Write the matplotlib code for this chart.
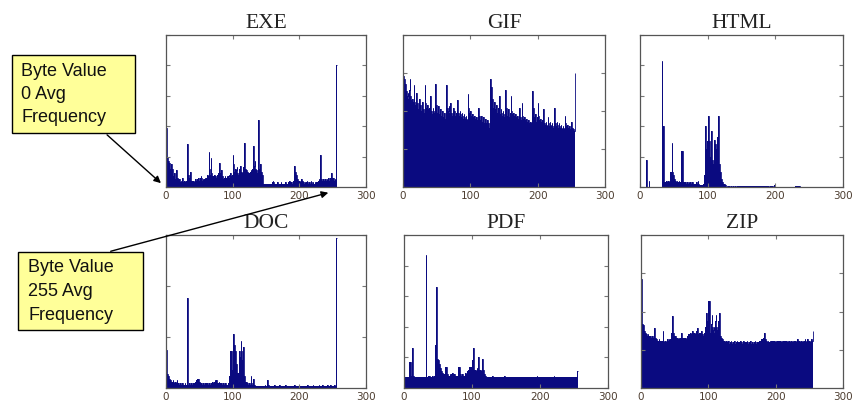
import numpy as np
import matplotlib
matplotlib.use('Agg')
import matplotlib.pyplot as plt
from matplotlib.patches import Rectangle, FancyArrowPatch

# average byte frequency, in percent of each panel's height, byte values 0..255
exe = [39, 21, 20, 17, 14, 16, 12, 10, 15, 12, 8, 7, 9, 6, 5, 11,
       9, 6, 5, 4, 5, 3, 4, 3, 6, 4, 3, 4, 3, 3, 4, 5,
       28, 8, 5, 6, 10, 5, 4, 4, 3, 4, 3, 4, 5, 4, 3, 5,
       6, 5, 4, 6, 7, 6, 4, 5, 4, 5, 6, 5, 6, 7, 8, 7,
       23, 12, 8, 19, 9, 7, 6, 7, 8, 6, 7, 6, 5, 8, 9, 7,
       16, 9, 8, 11, 7, 6, 5, 6, 7, 5, 6, 7, 6, 7, 8, 6,
       9, 8, 7, 8, 21, 15, 10, 9, 12, 11, 13, 9, 8, 10, 12, 14,
       11, 10, 9, 12, 13, 29, 15, 12, 11, 9, 10, 9, 8, 9, 10, 11,
       10, 12, 9, 27, 14, 17, 12, 11, 10, 9, 44, 13, 12, 15, 11, 10,
       8, 3, 2, 2, 2, 2, 2, 2, 2, 2, 2, 2, 2, 2, 2, 3,
       4, 3, 2, 2, 2, 2, 2, 3, 2, 2, 2, 2, 3, 2, 2, 2,
       2, 2, 2, 3, 2, 2, 2, 3, 2, 4, 3, 2, 3, 2, 3, 4,
       14, 12, 10, 8, 8, 5, 4, 3, 4, 3, 3, 5, 4, 3, 3, 2,
       3, 2, 3, 4, 3, 2, 2, 3, 2, 4, 3, 2, 3, 2, 2, 3,
       2, 3, 2, 3, 4, 5, 4, 21, 6, 5, 4, 4, 5, 4, 3, 5,
       4, 5, 4, 6, 5, 4, 6, 7, 9, 6, 5, 6, 4, 5, 4, 80]

gif = [73, 72, 71, 68, 66, 63, 60, 62, 58, 64, 71, 60, 57, 55, 58, 56,
       67, 56, 54, 52, 62, 55, 53, 51, 58, 54, 52, 50, 56, 53, 51, 49,
       67, 55, 52, 50, 54, 51, 49, 52, 60, 53, 50, 48, 52, 50, 49, 47,
       68, 54, 51, 49, 53, 50, 48, 51, 49, 47, 50, 48, 46, 49, 47, 45,
       67, 56, 52, 50, 53, 49, 55, 51, 49, 47, 52, 48, 50, 47, 46, 49,
       57, 51, 49, 47, 50, 48, 46, 49, 47, 45, 48, 46, 45, 47, 45, 44,
       61, 52, 49, 47, 50, 47, 45, 48, 46, 44, 47, 45, 44, 46, 44, 43,
       52, 47, 45, 44, 47, 45, 43, 46, 44, 42, 45, 43, 42, 44, 42, 41,
       39, 71, 62, 66, 58, 55, 52, 56, 53, 51, 54, 50, 49, 52, 50, 60,
       48, 51, 49, 47, 50, 48, 46, 55, 64, 52, 49, 47, 51, 48, 46, 49,
       60, 50, 48, 46, 49, 47, 45, 48, 46, 44, 47, 45, 44, 52, 46, 44,
       55, 47, 45, 43, 46, 44, 43, 45, 43, 42, 44, 42, 41, 43, 42, 41,
       63, 52, 49, 46, 48, 45, 43, 46, 55, 47, 44, 42, 45, 43, 41, 44,
       51, 44, 42, 41, 43, 41, 40, 46, 42, 40, 43, 41, 40, 42, 40, 39,
       52, 45, 42, 40, 43, 41, 39, 42, 40, 39, 41, 39, 38, 40, 39, 38,
       47, 42, 40, 39, 41, 39, 38, 40, 38, 37, 43, 39, 37, 38, 37, 75]

html = [0, 0, 0, 0, 0, 0, 0, 0, 0, 18, 18, 0, 0, 4, 0, 0,
        0, 0, 0, 0, 0, 0, 0, 0, 0, 0, 0, 0, 0, 0, 0, 0,
        83, 40, 40, 4, 3, 3, 3, 4, 3, 3, 4, 3, 4, 10, 10, 29,
        10, 8, 5, 4, 4, 3, 4, 3, 3, 4, 3, 3, 4, 24, 24, 4,
        3, 3, 3, 3, 2, 3, 3, 2, 3, 2, 3, 2, 2, 3, 2, 2,
        2, 2, 2, 3, 2, 4, 2, 1, 1, 1, 1, 1, 1, 2, 2, 8,
        40, 40, 25, 30, 40, 47, 30, 28, 20, 37, 22, 18, 15, 26, 31, 28,
        18, 25, 33, 33, 47, 15, 10, 8, 5, 3, 3, 2, 2, 1, 1, 0,
        0.5, 0, 0.5, 0, 0.5, 0, 0, 0.5, 0, 0, 0.5, 0, 0, 0.5, 0, 0,
        0.5, 0.5, 0.5, 0.5, 0.5, 0.5, 0.5, 0.5, 0.5, 0.5, 0.5, 0.5, 0.5, 0.5, 0.5, 0.5,
        0.5, 0.5, 0.5, 0.5, 0.5, 0.5, 0.5, 0.5, 0.5, 0.5, 0.5, 0.5, 0.5, 0.5, 0.5, 0.5,
        0.5, 0.5, 0.5, 0.5, 0.5, 0.5, 0.5, 0.5, 0.5, 0.5, 0.5, 0, 0.5, 0.5, 0.5, 0,
        0.5, 0, 0.5, 0.5, 0.5, 0, 1.5, 0.5, 0, 0, 0, 0, 0, 0, 0, 0,
        0, 0, 0, 0, 0, 0, 0, 0, 0, 0, 0, 0, 0, 0, 0, 0,
        0, 0, 0, 0, 0, 0.5, 0.5, 0.5, 0.5, 0.5, 0.5, 0.5, 0.5, 0, 0, 0,
        0, 0, 0, 0, 0, 0, 0, 0, 0, 0, 0, 0, 0, 0, 0, 0]

doc = [25, 10, 9, 8, 7, 6, 5, 5, 4, 4, 5, 4, 3, 3, 4, 3,
       5, 3, 3, 2, 2, 3, 2, 2, 3, 2, 2, 2, 3, 2, 2, 2,
       59, 2, 2, 3, 2, 2, 3, 2, 2, 3, 3, 3, 4, 5, 6, 6,
       6, 5, 4, 3, 3, 3, 2, 3, 3, 2, 2, 3, 3, 2, 3, 2,
       3, 3, 2, 3, 3, 4, 3, 3, 4, 5, 4, 5, 4, 3, 3, 4,
       3, 3, 3, 3, 2, 3, 3, 2, 3, 3, 2, 2, 2, 3, 3, 8,
       24, 18, 24, 12, 20, 35, 28, 15, 24, 16, 12, 10, 10, 18, 24, 20,
       31, 24, 18, 16, 27, 8, 5, 4, 4, 3, 3, 2, 2, 3, 2, 8,
       3, 2, 2, 6, 2, 2, 1, 1, 1, 1, 1, 1, 1, 1, 1, 1,
       1, 1, 1, 1, 2, 1, 1, 2, 5, 2, 1, 1, 1, 1, 1, 1,
       1, 1, 2, 1, 1, 1, 1, 1, 1, 1, 2, 1, 1, 1, 1, 1,
       1, 1, 1, 2, 1, 1, 1, 1, 1, 1, 1, 1, 1, 1, 1, 1,
       2, 1, 1, 1, 1, 1, 1, 2, 1, 1, 1, 1, 1, 1, 1, 1,
       1, 1, 1, 1, 2, 1, 1, 1, 1, 1, 1, 1, 2, 1, 1, 1,
       1, 1, 1, 1, 1, 2, 1, 1, 1, 1, 2, 1, 1, 1, 1, 1,
       1, 1, 2, 1, 1, 1, 2, 1, 1, 1, 1, 1, 2, 1, 1, 98]

pdf = [7, 7, 7, 7, 7, 7, 7, 7, 17, 17, 7, 8, 26, 8, 7, 7,
       7, 7, 7, 7, 7, 7, 7, 7, 7, 7, 7, 7, 7, 7, 7, 7,
       87, 7, 7, 7, 8, 8, 7, 7, 7, 8, 8, 7, 8, 9, 28, 66,
       20, 19, 18, 17, 16, 13, 12, 11, 10, 9, 9, 9, 14, 14, 14, 9,
       9, 8, 8, 9, 8, 9, 10, 10, 9, 8, 9, 8, 8, 8, 8, 10,
       14, 14, 12, 9, 8, 8, 9, 8, 8, 9, 10, 9, 9, 11, 12, 14,
       14, 14, 13, 14, 18, 26, 26, 12, 10, 12, 11, 13, 12, 20, 20, 12,
       12, 11, 10, 19, 12, 10, 9, 8, 8, 7, 7, 7, 7, 7, 7, 7,
       7, 7, 8, 7, 7, 7, 7, 7, 7, 7, 7, 7, 7, 7, 7, 7,
       7, 7, 7, 8, 7, 7, 7, 7, 7, 7, 7, 7, 7, 7, 7, 7,
       7, 7, 7, 7, 7, 7, 7, 7, 7, 7, 7, 7, 7, 7, 7, 7,
       7, 7, 7, 7, 7, 7, 7, 7, 7, 7, 7, 7, 7, 7, 7, 7,
       7, 7, 7, 8, 7, 7, 7, 7, 7, 7, 7, 7, 7, 7, 7, 7,
       7, 7, 7, 7, 7, 7, 7, 7, 7, 7, 7, 7, 8, 7, 7, 7,
       7, 7, 7, 7, 7, 7, 7, 7, 7, 7, 7, 7, 7, 7, 7, 7,
       7, 7, 7, 7, 7, 7, 7, 7, 7, 7, 7, 7, 7, 7, 7, 11]

zip_ = [71, 50, 42, 41, 38, 37, 36, 35, 35, 34, 35, 34, 34, 33, 34, 33,
        33, 34, 33, 32, 39, 33, 32, 32, 31, 31, 32, 31, 31, 30, 31, 31,
        37, 31, 30, 31, 31, 30, 31, 32, 31, 32, 31, 32, 33, 36, 47, 47,
        36, 34, 33, 34, 33, 32, 33, 32, 33, 32, 33, 34, 36, 33, 32, 33,
        33, 32, 33, 32, 33, 34, 35, 34, 35, 36, 35, 36, 37, 36, 35, 36,
        35, 36, 37, 39, 36, 35, 36, 35, 36, 37, 36, 35, 34, 35, 36, 40,
        45, 49, 44, 57, 57, 57, 40, 36, 42, 48, 40, 38, 40, 36, 44, 48,
        40, 38, 42, 44, 49, 38, 34, 33, 32, 32, 31, 31, 31, 30, 31, 30,
        30, 31, 30, 29, 30, 31, 30, 29, 30, 30, 31, 30, 29, 30, 31, 30,
        30, 29, 30, 31, 30, 30, 29, 30, 31, 30, 29, 30, 30, 31, 30, 29,
        30, 30, 31, 30, 29, 30, 30, 29, 30, 31, 30, 29, 29, 30, 30, 31,
        30, 31, 32, 31, 32, 33, 32, 36, 32, 31, 31, 30, 31, 30, 30, 31,
        30, 31, 30, 31, 31, 30, 31, 30, 31, 30, 31, 30, 31, 31, 30, 31,
        30, 31, 30, 31, 30, 31, 31, 30, 31, 30, 31, 30, 31, 31, 30, 31,
        30, 31, 30, 31, 30, 31, 30, 31, 32, 31, 30, 31, 30, 31, 31, 30,
        31, 30, 31, 32, 31, 30, 31, 32, 31, 30, 31, 30, 31, 32, 31, 37]

titles = ['EXE', 'GIF', 'HTML', 'DOC', 'PDF', 'ZIP']
series = [exe, gif, html, doc, pdf, zip_]
ytick_steps = [5, 4, 5, 3, 5, 4]
xticks = [0, 100, 200, 300]

W, H = 855, 404
# axes boxes in pixels: left, top, width, height
boxes = [(166, 35, 200, 152), (403, 35, 202, 152), (640, 35, 203, 152),
         (166, 235, 200, 153), (404, 235, 204, 153), (641, 235, 202, 153)]

navy = '#0a0a80'

fig = plt.figure(figsize=(W / 100, H / 100), dpi=100)

for (l, t, w, h), name, vals, nt in zip(boxes, titles, series, ytick_steps):
    assert len(vals) == 256
    ax = fig.add_axes([l / W, (H - t - h) / H, w / W, h / H])
    edges = np.arange(257)
    ax.stairs(vals, edges, fill=True, color=navy, linewidth=0)
    # thin outline so single-byte spikes stay visible at this size
    ax.stairs(vals, edges, fill=False, color=navy, linewidth=0.6, baseline=None)
    ax.set_xlim(0, 300)
    ax.set_ylim(0, 100)
    ax.set_xticks(xticks)
    ax.set_yticks(np.linspace(0, 100, nt + 1))
    ax.tick_params(direction='in', length=3, top=True, right=True, labelleft=False,
                   labelsize=7.5, labelcolor='#4d3d30', color='#777777', pad=3)
    for s in ax.spines.values():
        s.set_color('#555555')
        s.set_linewidth(0.9)
        s.set_zorder(3)
    ax.set_title(name, family='Liberation Serif', fontsize=15.5, pad=5, color='#222222')

# yellow callout boxes
callouts = [((12, 55, 123, 78), ['Byte Value', '0 Avg', 'Frequency'], 21),
            ((18, 252, 125, 78), ['Byte Value', '255 Avg', 'Frequency'], 28)]
for (x, y, w, h), lines, tx in callouts:
    fig.add_artist(Rectangle((x / W, (H - y - h) / H), w / W, h / H, transform=fig.transFigure,
                             facecolor='#ffff99', edgecolor='black', linewidth=1))
    for i, line in enumerate(lines):
        fig.text(tx / W, (H - y - 16 - 23.5 * i) / H, line, family='Liberation Sans',
                 fontsize=13, va='center', ha='left', color='#111111')

arrows = [((105, 133), (163, 185)), ((108, 252), (331, 192))]
for a, b in arrows:
    fig.add_artist(FancyArrowPatch((a[0] / W, (H - a[1]) / H), (b[0] / W, (H - b[1]) / H),
                                   transform=fig.transFigure, arrowstyle='-|>',
                                   mutation_scale=10, color='black', linewidth=1))

fig.savefig('out.png', dpi=100)
